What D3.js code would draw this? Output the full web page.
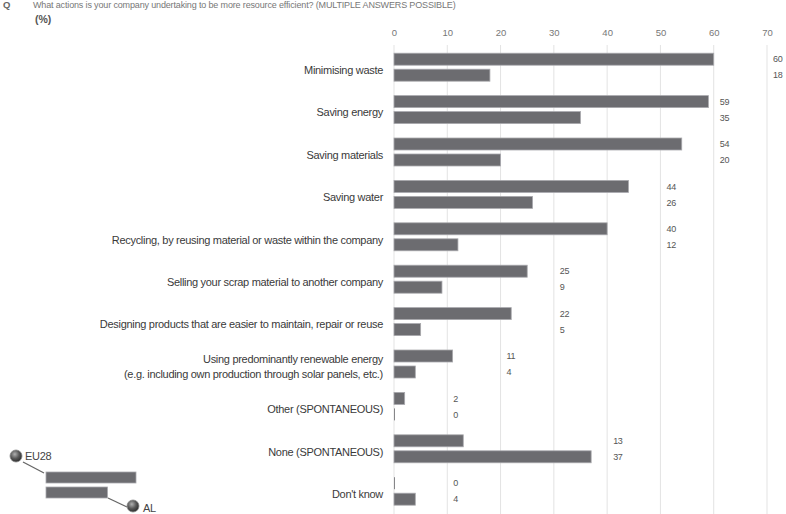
<!DOCTYPE html>
<html>
<head>
<meta charset="utf-8">
<script src="https://cdn.jsdelivr.net/npm/d3@7"></script>
<style>
  html, body { margin: 0; padding: 0; background: #fff; }
  svg { display: block; }
</style>
</head>
<body>
<svg id="chart" width="786" height="514"></svg>
<script>
// Actions undertaken to be more resource efficient (%), EU28 vs AL
const categories = [
  "Minimising waste",
  "Saving energy",
  "Saving materials",
  "Saving water",
  "Recycling, by reusing material or waste within the company",
  "Selling your scrap material to another company",
  "Designing products that are easier to maintain, repair or reuse",
  "Using predominantly renewable energy\n(e.g. including own production through solar panels, etc.)",
  "Other (SPONTANEOUS)",
  "None (SPONTANEOUS)",
  "Don't know"
];
const series = ["EU28", "AL"];
const eu28 = [60, 59, 54, 44, 40, 25, 22, 11, 2, 13, 0];
const al   = [18, 35, 20, 26, 12, 9, 5, 4, 0, 37, 4];
const ticks = [0, 10, 20, 30, 40, 50, 60, 70];

const titleText = "What actions is your company undertaking to be more resource efficient? (MULTIPLE ANSWERS POSSIBLE)";

const svg = d3.select("#chart");
const labelFont = "'Liberation Sans', Arial, sans-serif";
const barFill = "#6c6c70";
const barStroke = "#a9a9ad";

const x = d3.scaleLinear().domain([0, 70]).range([394, 767]);
const y = d3.scaleBand().domain(categories).range([46, 512.4])
  .paddingInner(0.34).paddingOuter(0.17);
const ySub = d3.scaleBand().domain(series).range([0, y.bandwidth()]).paddingInner(0.25);

// Question title and unit
svg.append("text").attr("x", 3).attr("y", 8)
  .attr("font-family", labelFont).attr("font-size", 9.5).attr("font-weight", "bold")
  .attr("fill", "#666").text("Q");
svg.append("text").attr("x", 33).attr("y", 8)
  .attr("font-family", labelFont).attr("font-size", 9).attr("letter-spacing", -0.15)
  .attr("fill", "#777").text(titleText);
svg.append("text").attr("x", 35).attr("y", 23)
  .attr("font-family", labelFont).attr("font-size", 10.5).attr("font-weight", "bold")
  .attr("fill", "#555").text("(%)");

// Top axis: tick labels and vertical gridlines
const axis = svg.append("g").attr("transform", "translate(0,45)")
  .call(d3.axisTop(x).tickValues(ticks).tickSize(0).tickPadding(9));
axis.select(".domain").remove();
axis.selectAll("text")
  .attr("font-family", labelFont).attr("font-size", 9.5).attr("fill", "#777");

svg.append("g").selectAll("line").data(ticks).join("line")
  .attr("x1", d => x(d)).attr("x2", d => x(d))
  .attr("y1", 45).attr("y2", 514)
  .attr("stroke", "#e3e3e3").attr("stroke-width", 1);

// Bars
const rows = categories.map((c, i) => ({ cat: c, vals: [
  { s: "EU28", v: eu28[i] }, { s: "AL", v: al[i] }
]}));

const groups = svg.append("g").selectAll("g").data(rows).join("g")
  .attr("transform", d => `translate(0,${y(d.cat)})`);

groups.selectAll("rect").data(d => d.vals).join("rect")
  .attr("x", x(0))
  .attr("y", d => ySub(d.s))
  .attr("width", d => Math.max(x(d.v) - x(0), 0.8))
  .attr("height", ySub.bandwidth())
  .attr("fill", barFill)
  .attr("stroke", d => d.v > 0 ? barStroke : "none")
  .attr("stroke-width", 0.8);

// Value labels, placed just past the next gridline beyond the longer bar
groups.each(function (d) {
  const mx = d3.max(d.vals, v => v.v);
  const lx = x(Math.floor(mx / 10) * 10 + 10) + 6;
  d3.select(this).selectAll("text.val").data(d.vals).join("text")
    .attr("class", "val")
    .attr("x", lx)
    .attr("y", v => ySub(v.s) + ySub.bandwidth() / 2)
    .attr("dy", "0.35em")
    .attr("font-family", labelFont).attr("font-size", 9).attr("letter-spacing", -0.3)
    .attr("fill", "#555")
    .text(v => v.v);
});

// Category labels
groups.each(function (d) {
  const lines = d.cat.split("\n");
  const t = d3.select(this).append("text")
    .attr("text-anchor", "end")
    .attr("font-family", labelFont).attr("font-size", 11).attr("letter-spacing", -0.3)
    .attr("fill", "#3a3a3a");
  const cy = y.bandwidth() / 2 + 3;
  const lh = 15;
  lines.forEach((ln, i) => {
    t.append("tspan").attr("x", 383)
      .attr("y", cy + (i - (lines.length - 1) / 2) * lh)
      .attr("dy", "0.35em")
      .text(ln);
  });
});

// Legend
const defs = svg.append("defs");
const grad = defs.append("radialGradient").attr("id", "ball")
  .attr("cx", "40%").attr("cy", "35%").attr("r", "65%");
grad.append("stop").attr("offset", "0%").attr("stop-color", "#b0b0b0");
grad.append("stop").attr("offset", "55%").attr("stop-color", "#5a5a5a");
grad.append("stop").attr("offset", "100%").attr("stop-color", "#2e2e2e");

const leg = svg.append("g");
const legX = d3.scaleLinear().domain([0, 60]).range([46, 136]);
const legVals = [{ s: "EU28", v: 60, y: 472 }, { s: "AL", v: 41, y: 487 }];
leg.selectAll("rect").data(legVals).join("rect")
  .attr("x", legX(0)).attr("y", d => d.y)
  .attr("width", d => legX(d.v) - legX(0)).attr("height", 11)
  .attr("fill", barFill).attr("stroke", barStroke).attr("stroke-width", 0.8);

leg.append("line").attr("x1", 23).attr("y1", 462).attr("x2", 44).attr("y2", 473)
  .attr("stroke", "#666").attr("stroke-width", 1.3);
leg.append("line").attr("x1", 108).attr("y1", 498).attr("x2", 127).attr("y2", 507)
  .attr("stroke", "#666").attr("stroke-width", 1.3);

leg.append("circle").attr("cx", 16).attr("cy", 456).attr("r", 6)
  .attr("fill", "url(#ball)").attr("stroke", "#888").attr("stroke-width", 0.8);
leg.append("circle").attr("cx", 133).attr("cy", 506).attr("r", 6)
  .attr("fill", "url(#ball)").attr("stroke", "#888").attr("stroke-width", 0.8);

leg.append("text").attr("x", 25).attr("y", 456).attr("dy", "0.35em")
  .attr("font-family", labelFont).attr("font-size", 11).attr("letter-spacing", -0.3)
  .attr("fill", "#444").text("EU28");
leg.append("text").attr("x", 143).attr("y", 508).attr("dy", "0.35em")
  .attr("font-family", labelFont).attr("font-size", 11).attr("letter-spacing", -0.3)
  .attr("fill", "#444").text("AL");
</script>
</body>
</html>
